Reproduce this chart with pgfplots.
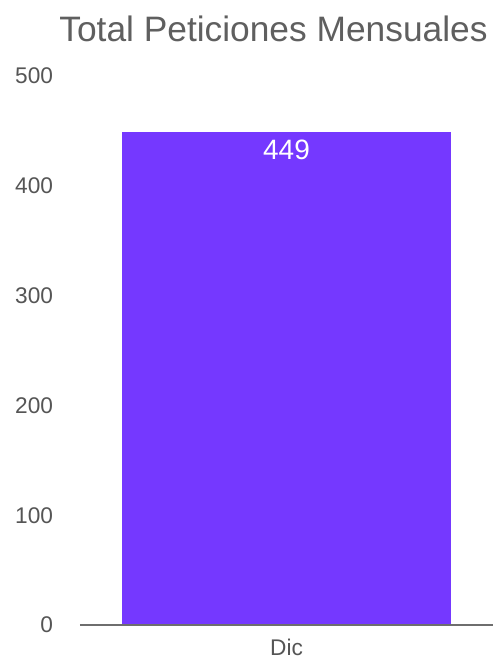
\documentclass[border=0pt]{standalone}
\usepackage{fontspec}
\setmainfont{Liberation Sans}
\usepackage{pgfplots}
\pgfplotsset{compat=1.18}
\definecolor{barc}{HTML}{7538FF}
\definecolor{titlec}{HTML}{5F5F5F}
\definecolor{tickc}{HTML}{555555}
\definecolor{axc}{HTML}{6E6E6E}
\begin{document}
\begin{tikzpicture}
\useasboundingbox (-60pt,-26.25pt) rectangle (309.75pt,468.75pt);
\begin{axis}[
  at={(0pt,0pt)}, anchor=south west,
  scale only axis, width=309.75pt, height=411.75pt,
  xmin=-0.5, xmax=0.5, ymin=0, ymax=500,
  ytick={0,100,...,500},
  xtick={0}, xticklabels={Dic},
  axis x line=bottom, axis y line=left,
  y axis line style={draw=none},
  x axis line style={draw=axc, line width=1.1pt, -},
  major tick length=0pt,
  /pgf/number format/assume math mode=true,
  yticklabel style={font=\fontsize{17}{20}\selectfont, text=tickc, inner sep=0pt, xshift=-20pt},
  xticklabel style={font=\fontsize{17}{20}\selectfont, text=tickc, inner sep=0pt, yshift=-10.5pt},
  axis on top,
  clip=false,
]
\addplot[ybar, bar shift=0pt, bar width=0.797, fill=barc, draw=none,
  nodes near coords,
  every node near coord/.append style={anchor=base, yshift=-21pt, inner sep=0pt, text=white, font=\fontsize{21}{24}\selectfont}]
  coordinates {(0,449)};
\end{axis}
\node[anchor=base, inner sep=0pt, text=titlec, font=\fontsize{26.5}{30}\selectfont] at (145.1pt,437.25pt) {Total Peticiones Mensuales};
\end{tikzpicture}
\end{document}
